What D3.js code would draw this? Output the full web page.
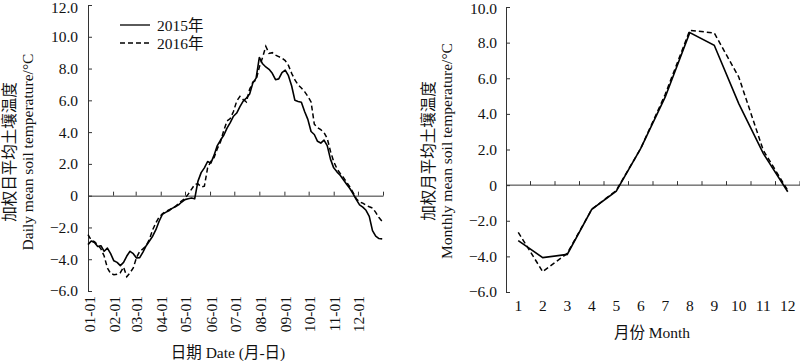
<!DOCTYPE html>
<html>
<head>
<meta charset="utf-8">
<script src="https://cdn.jsdelivr.net/npm/d3@7"></script>
<style>
  body { margin: 0; background: #fff; }
  svg text { font-family: "Liberation Serif", "Times New Roman", "Noto Sans CJK SC", serif; fill: #111; }
</style>
</head>
<body>
<script>
// daily weighted mean soil temperature, one reading every 4 days (day 0 = Jan 1)
var dayStep = 4;
var daily2015 = [-3.08, -2.85, -2.95, -3.2, -3.15, -3.5, -3.3, -3.65, -4.1, -4.2, -4.4, -4.2, -3.8, -3.5, -3.65, -3.92, -3.9, -3.55, -3.15, -2.85,
  -2.55, -2.14, -1.61, -1.18, -1.05, -0.95, -0.8, -0.7, -0.58, -0.4, -0.25, -0.2, -0.15, -0.2, 0.9, 1.45, 1.75, 2.15, 2.05, 2.55,
  3.15, 3.5, 3.8, 4.25, 4.6, 5.0, 5.2, 5.6, 5.95, 6.15, 6.4, 7.1, 7.4, 8.7, 8.3, 8.1, 7.95, 7.7, 7.3, 7.35,
  7.75, 7.9, 7.55, 6.9, 6.0, 5.93, 5.88, 5.3, 4.8, 4.04, 3.85, 3.42, 3.31, 3.5, 3.15, 2.3, 1.75, 1.5, 1.28, 1.0,
  0.72, 0.45, 0.12, -0.25, -0.58, -0.72, -0.92, -1.3, -2.2, -2.55, -2.7, -2.72];
var daily2016 = [-2.45, -2.8, -2.9, -3.1, -3.35, -3.8, -4.55, -4.9, -4.97, -4.95, -4.85, -4.5, -5.1, -4.85, -4.55, -3.9, -3.5, -3.35, -3.15, -2.75,
  -2.15, -1.7, -1.35, -1.15, -1.0, -0.9, -0.8, -0.68, -0.5, -0.32, -0.18, 0.1, 0.4, 0.7, 0.75, 0.55, 0.6, 1.75, 2.16, 2.4,
  2.95, 3.4, 4.1, 4.7, 4.85, 5.3, 5.95, 6.25, 6.05, 5.9, 6.7, 7.15, 7.27, 8.1, 8.7, 9.4, 8.95, 9.0, 8.85, 8.75,
  8.65, 8.5, 8.2, 7.7, 7.28, 6.98, 6.77, 6.55, 6.25, 5.9, 4.5, 4.28, 4.15, 3.98, 3.6, 2.8, 2.15, 1.7, 1.4, 1.15,
  0.85, 0.55, 0.2, -0.2, -0.4, -0.47, -0.6, -0.7, -0.78, -1.05, -1.38, -1.62];

var monthStart = [0, 31, 59, 90, 120, 151, 181, 212, 243, 273, 304, 334];
var dateLabels = ["01-01", "02-01", "03-01", "04-01", "05-01", "06-01", "07-01", "08-01", "09-01", "10-01", "11-01", "12-01"];

// monthly weighted mean soil temperature
var months = [1, 2, 3, 4, 5, 6, 7, 8, 9, 10, 11, 12];
var monthly2015 = [-3.12, -4.07, -3.89, -1.36, -0.34, 2.06, 4.95, 8.56, 7.85, 4.58, 1.78, -0.37];
var monthly2016 = [-2.65, -4.86, -3.83, -1.36, -0.3, 2.06, 5.1, 8.69, 8.54, 6.07, 1.96, -0.3];

var leftTicks = [-6, -4, -2, 0, 2, 4, 6, 8, 10, 12];
var rightTicks = [-6, -4, -2, 0, 2, 4, 6, 8, 10];
var seriesNames = ["2015年", "2016年"];

var fmt = function (v) {
    if (v === 0) return "0";
    return (v < 0 ? "\u2212" : "") + Math.abs(v).toFixed(1);
};

var svg = d3.select("body").append("svg")
    .attr("width", 800)
    .attr("height", 361);

var axisColor = "#333";
var fs = "15.5px";

////////////// LEFT PANEL (daily)

var xL = d3.scaleLinear().domain([0, 365]).range([88, 383]);
var yL = d3.scaleLinear().domain([-6, 12]).range([291, 5]);

var gyL = svg.append("g")
    .attr("transform", "translate(88,0)")
    .call(d3.axisLeft(yL).tickValues(leftTicks).tickSize(-4).tickSizeOuter(0).tickPadding(10).tickFormat(fmt));

// top label sits at the very edge, push it down a touch
gyL.selectAll(".tick text").filter(function (d) { return d === 12; }).attr("dy", "0.5em");

var gxL = svg.append("g")
    .attr("transform", "translate(0," + yL(0) + ")")
    .call(d3.axisBottom(xL).tickValues(monthStart.slice(1).concat([365])).tickSize(-4).tickSizeOuter(0).tickFormat(""));

// rotated date labels under the plot
svg.selectAll(".dateLabel")
    .data(monthStart)
    .enter()
    .append("text")
    .attr("class", "dateLabel")
    .attr("transform", function (d) { return "translate(" + (xL(d) + 1) + ",296) rotate(-90)"; })
    .attr("text-anchor", "end")
    .attr("dominant-baseline", "central")
    .style("font-size", fs)
    .text(function (d, i) { return dateLabels[i]; });

var lineL = d3.line()
    .x(function (d, i) { return xL(i * dayStep); })
    .y(function (d) { return yL(d); });

svg.append("path")
    .datum(daily2015)
    .attr("d", lineL)
    .style("fill", "none")
    .style("stroke", "#000")
    .style("stroke-width", 1.6)
    .style("stroke-linejoin", "round");

svg.append("path")
    .datum(daily2016)
    .attr("d", lineL)
    .style("fill", "none")
    .style("stroke", "#000")
    .style("stroke-width", 1.5)
    .style("stroke-dasharray", "5,3");

// legend
var legend = svg.append("g");
seriesNames.forEach(function (name, i) {
    var ly = 25 + i * 18;
    legend.append("line")
        .attr("x1", 120).attr("x2", 150)
        .attr("y1", ly).attr("y2", ly)
        .style("stroke", "#000")
        .style("stroke-width", 1.3)
        .style("stroke-dasharray", i === 0 ? null : "5,3");
    legend.append("text")
        .attr("x", 157).attr("y", ly)
        .attr("dominant-baseline", "central")
        .style("font-size", fs)
        .text(name);
});

// axis titles
svg.append("text")
    .attr("transform", "translate(9,152) rotate(-90)")
    .attr("text-anchor", "middle")
    .attr("dominant-baseline", "central")
    .style("font-size", fs)
    .text("加权日平均土壤温度");
svg.append("text")
    .attr("transform", "translate(27,152) rotate(-90)")
    .attr("text-anchor", "middle")
    .attr("dominant-baseline", "central")
    .style("font-size", fs)
    .text("Daily mean soil temperature/°C");
svg.append("text")
    .attr("x", 228).attr("y", 352)
    .attr("text-anchor", "middle")
    .attr("dominant-baseline", "central")
    .style("font-size", fs)
    .text("日期 Date (月-日)");

////////////// RIGHT PANEL (monthly)

var xR = d3.scaleBand().domain(months).range([506, 800]);
var yR = d3.scaleLinear().domain([-6, 10]).range([292, 7]);

var gyR = svg.append("g")
    .attr("transform", "translate(506,0)")
    .call(d3.axisLeft(yR).tickValues(rightTicks).tickSize(-4).tickSizeOuter(0).tickPadding(9).tickFormat(fmt));

gyR.selectAll(".tick text").filter(function (d) { return d === 10; }).attr("dy", "0.45em");

svg.append("line")
    .attr("x1", 506).attr("x2", 800)
    .attr("y1", yR(0)).attr("y2", yR(0))
    .style("stroke", axisColor);

svg.selectAll(".monthTick")
    .data(months)
    .enter()
    .append("line")
    .attr("class", "monthTick")
    .attr("x1", function (d) { return xR(d) + xR.bandwidth(); })
    .attr("x2", function (d) { return xR(d) + xR.bandwidth(); })
    .attr("y1", yR(0))
    .attr("y2", yR(0) - 4)
    .style("stroke", axisColor);

svg.selectAll(".monthLabel")
    .data(months)
    .enter()
    .append("text")
    .attr("class", "monthLabel")
    .attr("x", function (d) { return xR(d) + xR.bandwidth() / 2; })
    .attr("y", 305)
    .attr("text-anchor", "middle")
    .attr("dominant-baseline", "central")
    .style("font-size", fs)
    .text(function (d) { return d; });

var lineR = d3.line()
    .x(function (d, i) { return xR(months[i]) + xR.bandwidth() / 2; })
    .y(function (d) { return yR(d); });

svg.append("path")
    .datum(monthly2015)
    .attr("d", lineR)
    .style("fill", "none")
    .style("stroke", "#000")
    .style("stroke-width", 1.6);

svg.append("path")
    .datum(monthly2016)
    .attr("d", lineR)
    .style("fill", "none")
    .style("stroke", "#000")
    .style("stroke-width", 1.5)
    .style("stroke-dasharray", "5,3");

svg.append("text")
    .attr("transform", "translate(428,151) rotate(-90)")
    .attr("text-anchor", "middle")
    .attr("dominant-baseline", "central")
    .style("font-size", fs)
    .text("加权月平均土壤温度");
svg.append("text")
    .attr("transform", "translate(446,151) rotate(-90)")
    .attr("text-anchor", "middle")
    .attr("dominant-baseline", "central")
    .style("font-size", fs)
    .text("Monthly mean soil temperature/°C");
svg.append("text")
    .attr("x", 652).attr("y", 332)
    .attr("text-anchor", "middle")
    .attr("dominant-baseline", "central")
    .style("font-size", fs)
    .text("月份 Month");

// axis styling
svg.selectAll(".domain, .tick line").style("stroke", axisColor);
svg.selectAll(".tick text").style("font-size", fs).style("fill", "#111");
svg.selectAll("g").attr("font-family", null).attr("font-size", null);
</script>
</body>
</html>
